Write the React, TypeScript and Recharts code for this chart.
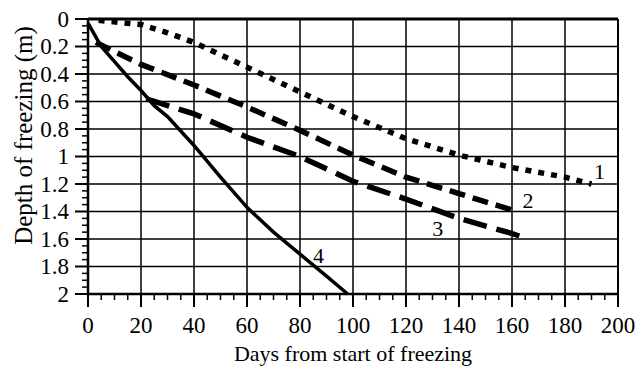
import React from 'react'
import { ComposedChart, Line, XAxis, YAxis, ReferenceLine, ReferenceDot, Label } from 'recharts'

// curve 1 (dotted)
const curve1 = [
  { x: 4, y: 0.01 }, { x: 20, y: 0.04 }, { x: 30, y: 0.1 }, { x: 40, y: 0.17 },
  { x: 60, y: 0.35 }, { x: 80, y: 0.53 }, { x: 100, y: 0.71 }, { x: 120, y: 0.87 },
  { x: 140, y: 0.99 }, { x: 160, y: 1.08 }, { x: 180, y: 1.15 }, { x: 190, y: 1.2 },
]
// curve 2 (short dashes)
const curve2 = [
  { x: 3, y: 0.17 }, { x: 20, y: 0.33 }, { x: 40, y: 0.48 }, { x: 60, y: 0.64 },
  { x: 80, y: 0.81 }, { x: 100, y: 0.99 }, { x: 120, y: 1.15 }, { x: 140, y: 1.27 },
  { x: 162, y: 1.4 },
]
// curve 3 (long dashes)
const curve3 = [
  { x: 22, y: 0.58 }, { x: 40, y: 0.69 }, { x: 60, y: 0.86 }, { x: 80, y: 1.0 },
  { x: 100, y: 1.18 }, { x: 120, y: 1.31 }, { x: 140, y: 1.45 }, { x: 160, y: 1.56 },
  { x: 166, y: 1.6 },
]
// curve 4 (solid)
const curve4 = [
  { x: 0, y: 0.03 }, { x: 5, y: 0.2 }, { x: 10, y: 0.31 }, { x: 15, y: 0.42 },
  { x: 20, y: 0.52 }, { x: 25, y: 0.63 }, { x: 30, y: 0.71 }, { x: 40, y: 0.92 },
  { x: 50, y: 1.15 }, { x: 60, y: 1.37 }, { x: 70, y: 1.55 }, { x: 80, y: 1.71 },
  { x: 90, y: 1.87 }, { x: 98, y: 2.0 },
]

const curveLabels = [
  { name: '1', x: 193, y: 1.11 },
  { name: '2', x: 166, y: 1.32 },
  { name: '3', x: 132, y: 1.52 },
  { name: '4', x: 87, y: 1.72 },
]

const xMajor = [0, 20, 40, 60, 80, 100, 120, 140, 160, 180, 200]
const xMinor = [
  0, 5, 10, 15, 20, 25, 30, 35, 40, 45, 50, 55, 60, 65, 70, 75, 80, 85, 90, 95, 100,
  105, 110, 115, 120, 125, 130, 135, 140, 145, 150, 155, 160, 165, 170, 175, 180, 185, 190, 195, 200,
]
const yMajor = [0, 0.2, 0.4, 0.6, 0.8, 1, 1.2, 1.4, 1.6, 1.8, 2]
const yMinor = [
  0, 0.05, 0.1, 0.15, 0.2, 0.25, 0.3, 0.35, 0.4, 0.45, 0.5, 0.55, 0.6, 0.65, 0.7, 0.75,
  0.8, 0.85, 0.9, 0.95, 1, 1.05, 1.1, 1.15, 1.2, 1.25, 1.3, 1.35, 1.4, 1.45, 1.5, 1.55,
  1.6, 1.65, 1.7, 1.75, 1.8, 1.85, 1.9, 1.95, 2,
]

const FONT = '"Liberation Serif", "DejaVu Serif", serif'
const textStyle = { fontFamily: FONT, fontSize: 23, fill: '#000' }
const isMajor = (v: number, step: number) => Math.abs(v / step - Math.round(v / step)) < 1e-6

const XTick = ({ x, y, payload }: any) => {
  const major = isMajor(payload.value, 20)
  return (
    <g>
      <line x1={x} x2={x} y1={y} y2={y + (major ? 13 : 6)} stroke="#000" strokeWidth={major ? 2 : 1.5} />
      {major && (
        <text x={x} y={y + 39} textAnchor="middle" style={textStyle}>
          {payload.value}
        </text>
      )}
    </g>
  )
}

const YTick = ({ x, y, payload }: any) => {
  const major = isMajor(payload.value, 0.2)
  return (
    <g>
      <line x1={x - (major ? 13 : 6)} x2={x} y1={y} y2={y} stroke="#000" strokeWidth={major ? 2 : 1.5} />
      {major && (
        <text x={x - 19} y={y + 7.5} textAnchor="end" style={textStyle}>
          {String(Math.round(payload.value * 10) / 10)}
        </text>
      )}
    </g>
  )
}

export default function App() {
  return (
    <div style={{ position: 'absolute', left: 0, top: 0, background: '#fff' }}>
      <ComposedChart width={643} height={369} margin={{ top: 19, right: 25, bottom: 0, left: 0 }}>
        <XAxis
          type="number"
          dataKey="x"
          domain={[0, 200]}
          ticks={xMinor}
          interval={0}
          height={75}
          tickSize={0}
          tickMargin={0}
          tickLine={false}
          tick={<XTick />}
          axisLine={{ stroke: '#000', strokeWidth: 2.5 }}
          allowDuplicatedCategory={false}
        >
          <Label
            value="Days from start of freezing"
            position="insideBottom"
            offset={8}
            style={{ fontFamily: FONT, fontSize: 22, fill: '#000' }}
          />
        </XAxis>
        <YAxis
          type="number"
          dataKey="y"
          domain={[0, 2]}
          reversed
          ticks={yMinor}
          interval={0}
          width={88}
          tickSize={0}
          tickMargin={0}
          tickLine={false}
          tick={<YTick />}
          axisLine={{ stroke: '#000', strokeWidth: 2.5 }}
        >
          <Label
            content={({ viewBox }: any) => {
              const cx = viewBox.x + 23
              const cy = viewBox.y + viewBox.height / 2 - 21
              return (
                <text
                  x={cx}
                  y={cy}
                  transform={`rotate(-90 ${cx} ${cy})`}
                  textAnchor="middle"
                  dominantBaseline="central"
                  style={{ fontFamily: FONT, fontSize: 25, fill: '#000' }}
                >
                  Depth of freezing (m)
                </text>
              )
            }}
          />
        </YAxis>
        {xMajor.slice(1).map((v) => (
          <ReferenceLine key={'vx' + v} x={v} stroke="#000" strokeWidth={v === 200 ? 2 : 1.5} ifOverflow="visible" />
        ))}
        {yMajor.slice(0, -1).map((v) => (
          <ReferenceLine key={'hy' + v} y={v} stroke="#000" strokeWidth={v === 0 ? 3 : 1.5} ifOverflow="visible" />
        ))}
        <Line data={curve1} dataKey="y" type="linear" stroke="#000" strokeWidth={5.5} strokeDasharray="6 7" dot={false} isAnimationActive={false} />
        <Line data={curve2} dataKey="y" type="linear" stroke="#000" strokeWidth={5.5} strokeDasharray="16 8" dot={false} isAnimationActive={false} />
        <Line data={curve3} dataKey="y" type="linear" stroke="#000" strokeWidth={5.5} strokeDasharray="24 10" dot={false} isAnimationActive={false} />
        <Line data={curve4} dataKey="y" type="linear" stroke="#000" strokeWidth={3.5} dot={false} isAnimationActive={false} />
        {curveLabels.map((c) => (
          <ReferenceDot
            key={c.name}
            x={c.x}
            y={c.y}
            r={0}
            fill="none"
            stroke="none"
            ifOverflow="visible"
            label={{ value: c.name, position: 'center', style: { fontFamily: FONT, fontSize: 22, fill: '#000' } }}
          />
        ))}
      </ComposedChart>
    </div>
  )
}
